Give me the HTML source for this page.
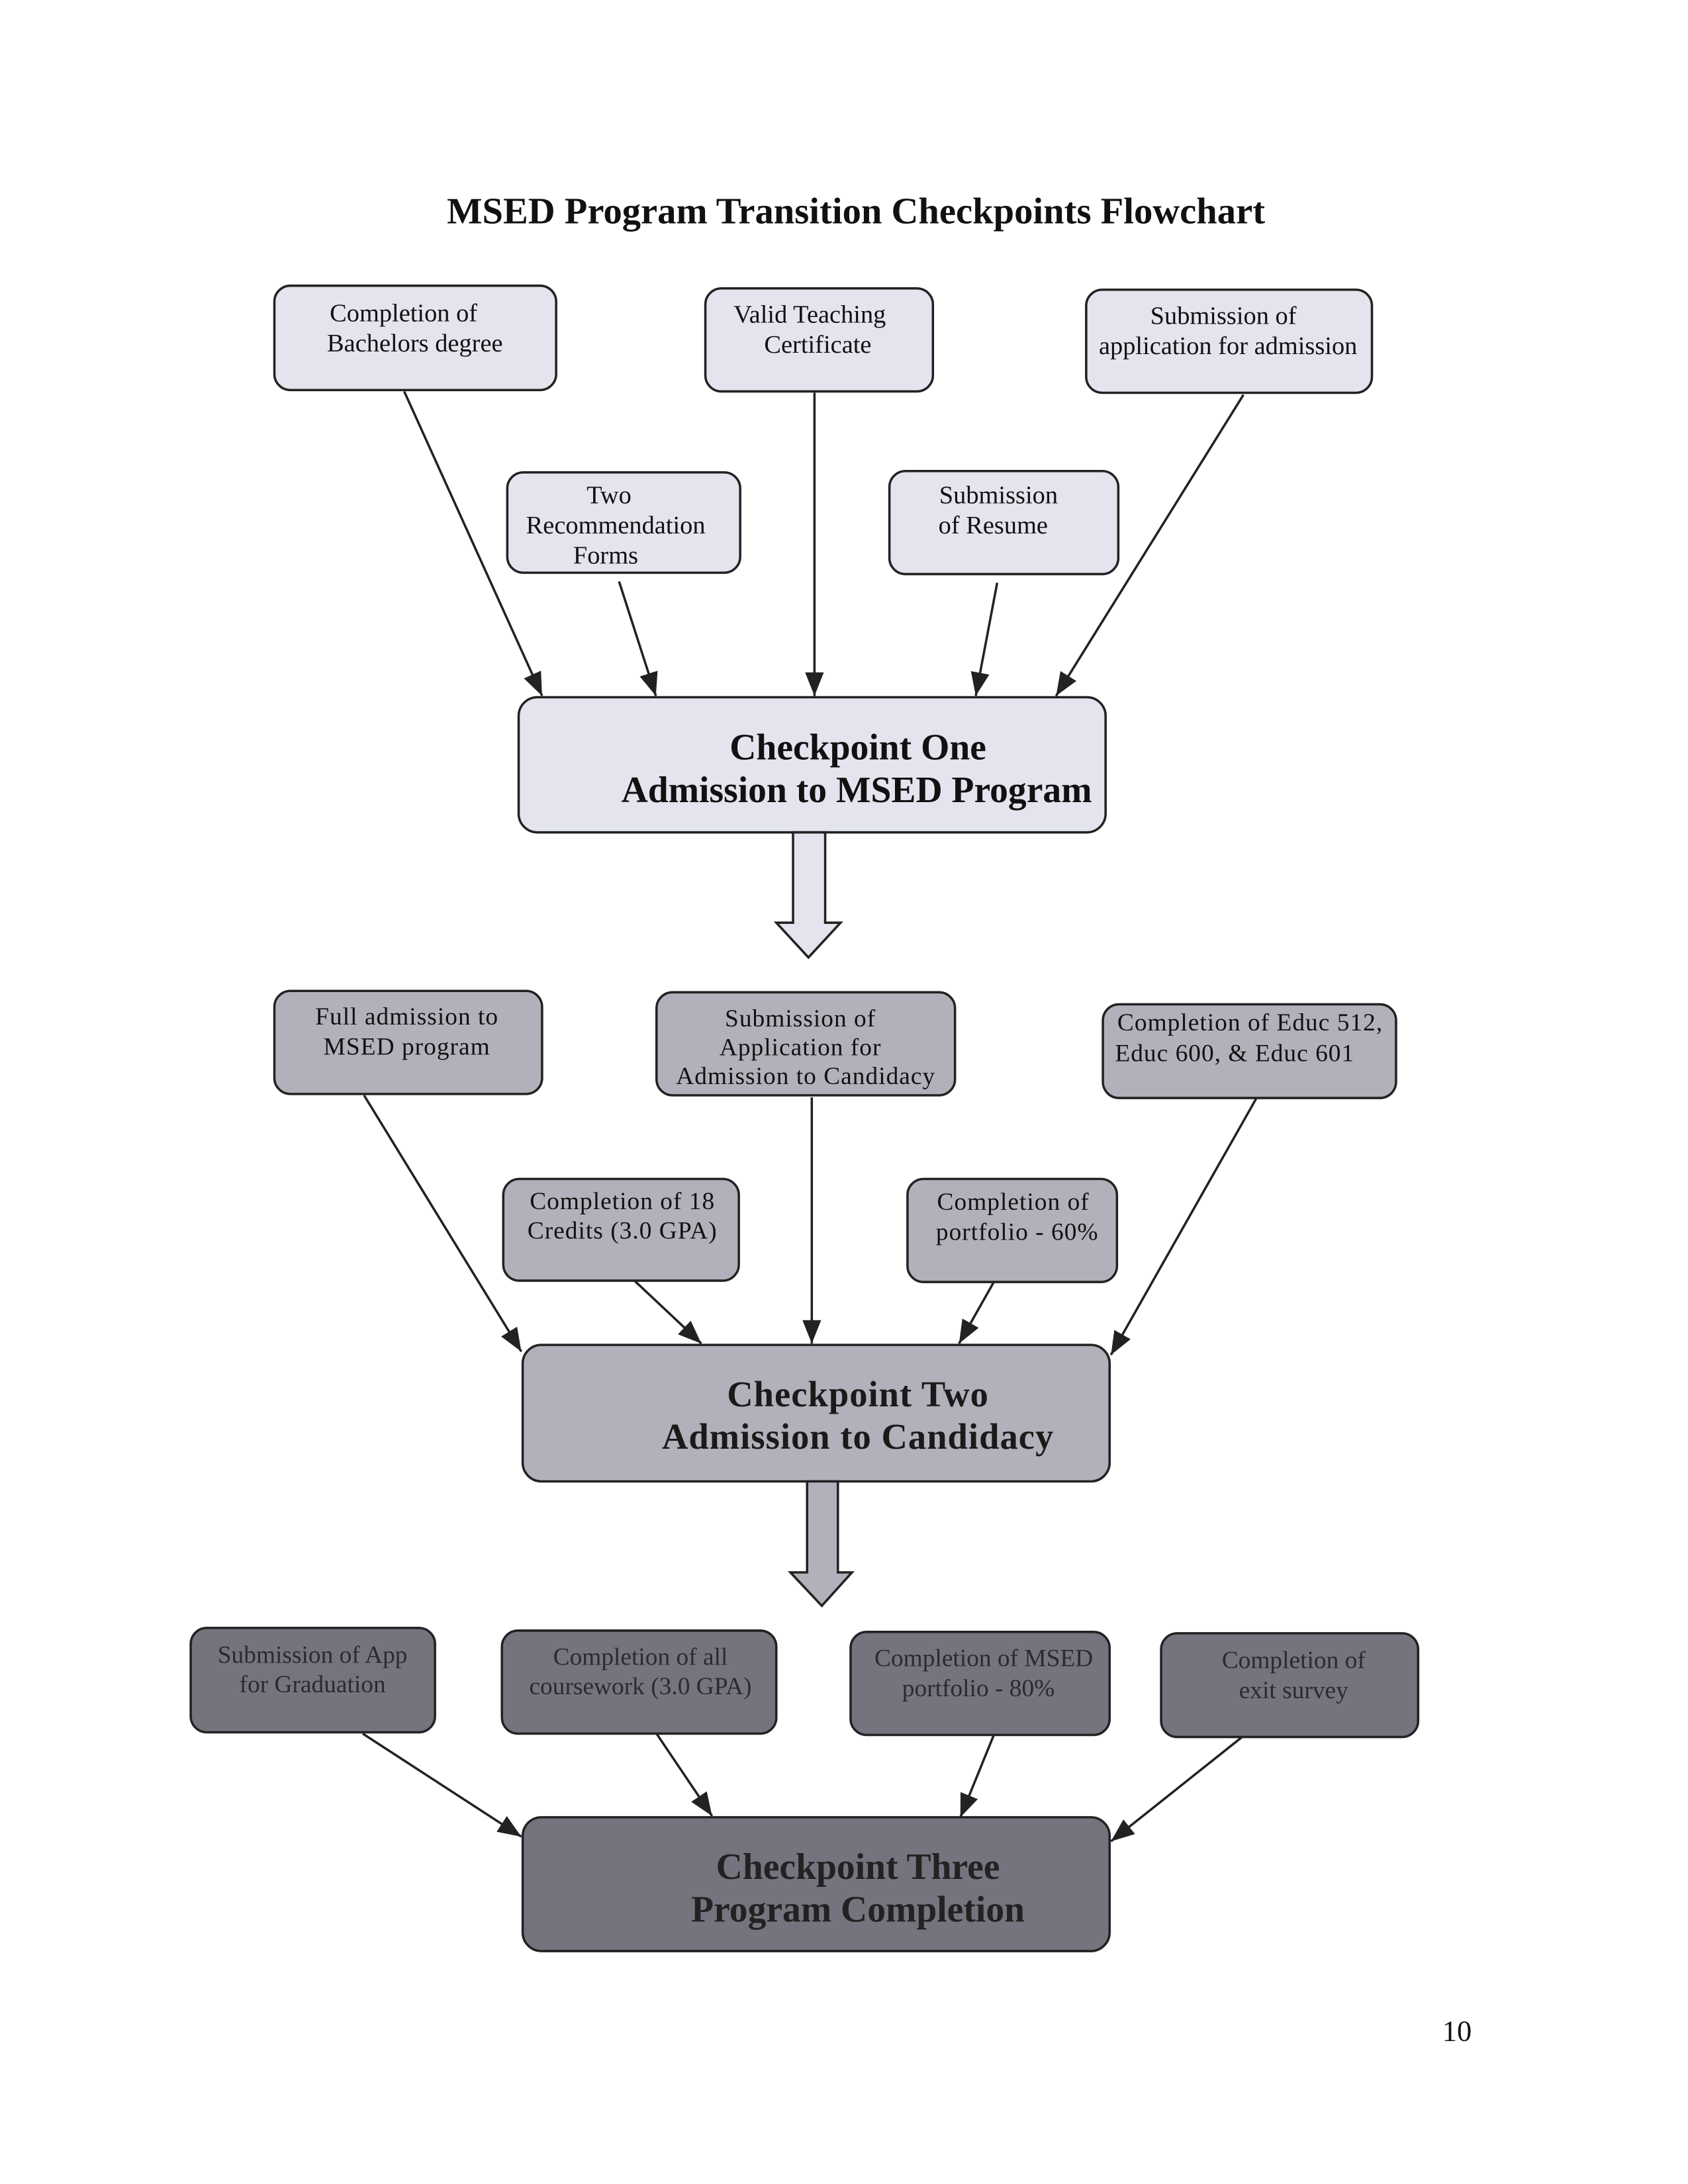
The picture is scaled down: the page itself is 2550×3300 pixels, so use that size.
<!DOCTYPE html>
<html><head><meta charset="utf-8"><style>
html,body{margin:0;padding:0;background:#fff}
svg{display:block}
text{font-family:"Liberation Serif",serif}
</style></head><body>
<svg width="2550" height="3300" viewBox="0 0 2550 3300" xmlns="http://www.w3.org/2000/svg">
<defs>
<marker id="a" viewBox="0 0 10 10" refX="10" refY="5" markerWidth="10" markerHeight="10" orient="auto"><path d="M0,1 L10,5 L0,9 z" fill="#222"/></marker>
</defs>
<rect width="2550" height="3300" fill="#fff"/>
<g transform="scale(1.011)">
<text x="1279" y="334" font-size="56" font-weight="bold" text-anchor="middle" fill="#111">MSED Program Transition Checkpoints Flowchart</text>

<g stroke="#222" stroke-width="3.5" fill="none" marker-end="url(#a)">
<line x1="604" y1="585" x2="810" y2="1040"/>
<line x1="925" y1="869" x2="980" y2="1040"/>
<line x1="1217" y1="587" x2="1217" y2="1040"/>
<line x1="1490" y1="871" x2="1458" y2="1040"/>
<line x1="1858" y1="590" x2="1578" y2="1040"/>
<line x1="544" y1="1637" x2="779" y2="2020"/>
<line x1="948" y1="1914" x2="1048" y2="2008"/>
<line x1="1213" y1="1640" x2="1213" y2="2008"/>
<line x1="1485" y1="1916" x2="1433" y2="2008"/>
<line x1="1877" y1="1642" x2="1660" y2="2025"/>
<line x1="542" y1="2591" x2="779" y2="2745"/>
<line x1="981" y1="2591" x2="1064" y2="2714"/>
<line x1="1485" y1="2593" x2="1435" y2="2716"/>
<line x1="1856" y1="2596" x2="1660" y2="2752"/>
</g>

<g stroke="#222" stroke-width="3.5">
<rect x="410" y="427" width="421" height="156" rx="24" fill="#e3e4ee"/>
<rect x="1054" y="431" width="340" height="154" rx="24" fill="#e3e4ee"/>
<rect x="1623" y="433" width="427" height="154" rx="24" fill="#e3e4ee"/>
<rect x="758" y="706" width="348" height="150" rx="24" fill="#e3e4ee"/>
<rect x="1329" y="704" width="342" height="154" rx="24" fill="#e3e4ee"/>
<rect x="775" y="1042" width="877" height="202" rx="28" fill="#e3e4ee"/>
<path d="M1185,1244 L1185,1379 L1160,1379 L1208,1431 L1256,1379 L1233,1379 L1233,1244 Z" fill="#e3e4ee"/>

<rect x="410" y="1481" width="400" height="154" rx="24" fill="#b2b1bb"/>
<rect x="981" y="1483" width="446" height="154" rx="24" fill="#b2b1bb"/>
<rect x="1648" y="1501" width="438" height="140" rx="24" fill="#b2b1bb"/>
<rect x="752" y="1762" width="352" height="152" rx="24" fill="#b2b1bb"/>
<rect x="1356" y="1762" width="313" height="154" rx="24" fill="#b2b1bb"/>
<rect x="781" y="2010" width="877" height="204" rx="28" fill="#b2b1bb"/>
<path d="M1206,2214 L1206,2350 L1181,2350 L1228,2400 L1273,2350 L1252,2350 L1252,2214 Z" fill="#b2b1bb"/>

<rect x="285" y="2433" width="365" height="156" rx="24" fill="#76737f"/>
<rect x="750" y="2437" width="410" height="154" rx="24" fill="#76737f"/>
<rect x="1271" y="2439" width="387" height="154" rx="24" fill="#76737f"/>
<rect x="1735" y="2441" width="384" height="155" rx="24" fill="#76737f"/>
<rect x="781" y="2716" width="877" height="200" rx="28" fill="#76737f"/>
</g>

<g font-size="38" text-anchor="middle" fill="#111">
<text x="603" y="480">Completion of</text><text x="620" y="525">Bachelors degree</text>
<text x="1210" y="482">Valid Teaching</text><text x="1222" y="527">Certificate</text>
<text x="1828" y="484">Submission of</text><text x="1835" y="529">application for admission</text>
<text x="910" y="752">Two</text><text x="920" y="797">Recommendation</text><text x="905" y="842">Forms</text>
<text x="1492" y="752">Submission</text><text x="1484" y="797">of Resume</text>
</g>
<g font-size="55" font-weight="bold" text-anchor="middle" fill="#111">
<text x="1282" y="1135">Checkpoint One</text><text x="1280" y="1199">Admission to MSED Program</text>
</g>

<g font-size="37" text-anchor="middle" fill="#111" letter-spacing="1">
<text x="608" y="1531">Full admission to</text><text x="608" y="1576">MSED program</text>
<text x="1196" y="1534">Submission of</text><text x="1196" y="1577">Application for</text><text x="1204" y="1620">Admission to Candidacy</text>
<text x="1868" y="1540">Completion of  Educ 512,</text><text x="1845" y="1586">Educ 600, &amp; Educ 601</text>
<text x="930" y="1807">Completion of 18</text><text x="930" y="1851">Credits (3.0 GPA)</text>
<text x="1514" y="1808">Completion of</text><text x="1520" y="1853">portfolio - 60%</text>
</g>
<g font-size="54" font-weight="bold" text-anchor="middle" fill="#1a1a1a" letter-spacing="1">
<text x="1282" y="2102">Checkpoint Two</text><text x="1282" y="2165">Admission to Candidacy</text>
</g>

<g font-size="37" text-anchor="middle" fill="#2a2a30">
<text x="467" y="2485">Submission of App</text><text x="467" y="2529">for Graduation</text>
<text x="957" y="2488">Completion of all</text><text x="957" y="2532">coursework (3.0 GPA)</text>
<text x="1470" y="2490">Completion of MSED</text><text x="1462" y="2535">portfolio - 80%</text>
<text x="1933" y="2493">Completion of</text><text x="1933" y="2538">exit survey</text>
</g>
<g font-size="55" font-weight="bold" text-anchor="middle" fill="#222">
<text x="1282" y="2808">Checkpoint Three</text><text x="1282" y="2872">Program Completion</text>
</g>

<text x="2177" y="3050" font-size="44" text-anchor="middle" fill="#111">10</text>
</g>
</svg>
</body></html>
